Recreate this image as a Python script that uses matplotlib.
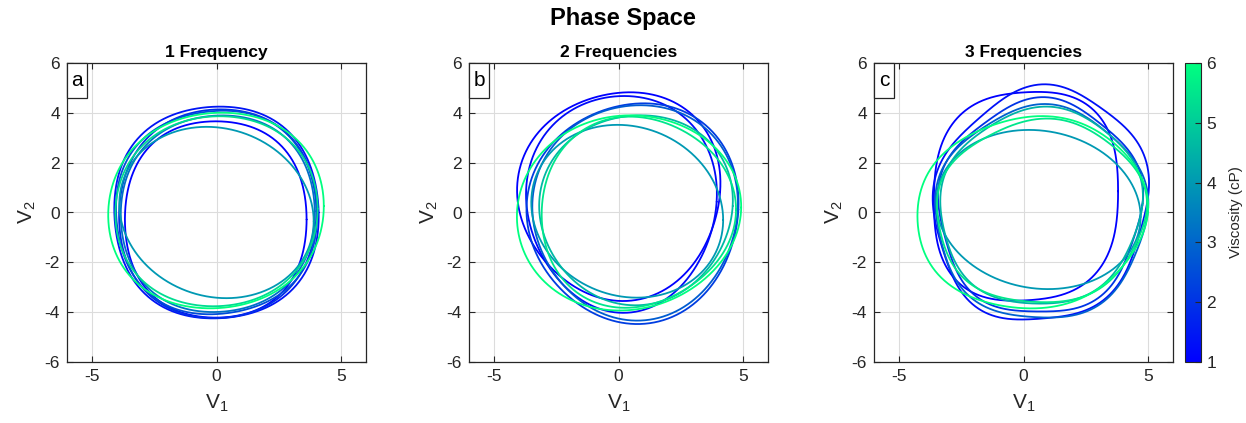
import numpy as np
import matplotlib
matplotlib.use("Agg")
import matplotlib.pyplot as plt
from matplotlib import cm, colors
from matplotlib.patches import Rectangle

plt.rcParams['font.family'] = ['Liberation Sans', 'DejaVu Sans']
plt.rcParams['mathtext.default'] = 'regular'
plt.rcParams['axes.unicode_minus'] = False

# ---------------- data (loop coefficients) ----------------
panel_titles = ["1 Frequency", "2 Frequencies", "3 Frequencies"]
panel_letters = ["a", "b", "c"]
axis_ticks_x = [-5, 0, 5]
axis_ticks_y = [-6, -4, -2, 0, 2, 4, 6]
cbar_ticks = [1, 2, 3, 4, 5, 6]

# viscosity (cP) of each loop
visc_a = [1.0, 1.4, 1.9, 2.5, 3.2, 4.0, 5.3, 6.0]
visc_b = [1.0, 1.2, 2.2, 2.8, 4.0, 4.6, 5.5, 6.0]
visc_c = [1.0, 1.3, 2.0, 2.9, 4.0, 4.5, 5.5, 6.0]

# centre of each loop
xc_a = [-0.03, 0.0, 0.05, 0.0, 0.05, 0.0, 0.0, -0.02]
yc_a = [-0.28, 0.0, -0.05, 0.0, -0.05, 0.0, 0.05, 0.08]
xc_b = [0.08, 0.14, 0.64, 0.70, 0.35, 0.72, 0.70, 0.38]
yc_b = [0.73, 0.43, 0.02, 0.06, 0.05, 0.16, 0.02, 0.0]
xc_c = [0.10, 0.70, 0.67, 0.70, 0.60, 0.70, 0.70, 0.33]
yc_c = [0.65, 0.30, 0.20, -0.03, 0.12, 0.22, 0.02, -0.01]

# half-widths (V1) and half-heights (V2)
ax_a = [3.72, 4.18, 4.02, 4.10, 3.95, 3.90, 4.10, 4.37]
ay_a = [4.02, 4.33, 4.25, 4.15, 4.00, 3.42, 3.85, 3.96]
ax_b = [4.07, 3.82, 4.25, 4.12, 3.85, 3.88, 3.90, 4.50]
ay_b = [4.18, 4.35, 4.42, 4.32, 3.45, 3.81, 3.82, 3.91]
ax_c = [3.85, 4.30, 4.08, 4.25, 4.10, 4.05, 4.20, 4.63]
ay_c = [4.35, 4.70, 4.30, 4.28, 3.18, 3.95, 3.68, 3.85]

# coupling term: V2 += tilt*cos(t)
tilt_a = [0.0, 0.0, 0.10, 0.05, 0.10, -0.35, 0.10, 0.18]
tilt_b = [0.10, 0.0, 0.10, 0.05, -0.35, 0.10, 0.10, 0.20]
tilt_c = [0.20, 0.30, 0.10, 0.05, -0.30, 0.15, 0.10, 0.20]

# one radial harmonic per loop: amplitude, order, phase
hamp_a = [-0.02, -0.02, -0.015, -0.02, -0.015, 0.0, -0.01, -0.01]
hord_a = [4, 4, 4, 4, 4, 4, 4, 4]
hph_a = [0.0, 0.3, 0.0, 0.5, 0.2, 0.0, 0.0, 0.0]
hamp_b = [0.03, 0.025, 0.025, 0.02, 0.0, 0.02, 0.03, 0.01]
hord_b = [3, 3, 3, 3, 3, 3, 3, 3]
hph_b = [2.2, 1.8, 2.4, 2.0, 0.0, 1.8, 0.0, 0.3]
hamp_c = [-0.04, 0.03, 0.03, 0.025, 0.0, 0.02, 0.02, 0.01]
hord_c = [4, 5, 5, 5, 5, 5, 5, 5]
hph_c = [0.0, 1.6, 1.4, 1.2, 0.0, 1.2, 1.0, 0.3]

panels = [
    (visc_a, xc_a, yc_a, ax_a, ay_a, tilt_a, hamp_a, hord_a, hph_a),
    (visc_b, xc_b, yc_b, ax_b, ay_b, tilt_b, hamp_b, hord_b, hph_b),
    (visc_c, xc_c, yc_c, ax_c, ay_c, tilt_c, hamp_c, hord_c, hph_c),
]

# ---------------- figure ----------------
W, H = 1246, 423
fig = plt.figure(figsize=(W / 100, H / 100), dpi=100)
cmap = plt.get_cmap('winter')
norm = colors.Normalize(vmin=1, vmax=6)
dark = '#262626'

lefts = [67, 469, 874]
t = np.linspace(0, 2 * np.pi, 721)
for i, (left, pdata) in enumerate(zip(lefts, panels)):
    ax = fig.add_axes([left / W, 1 - 362 / H, 299 / W, 299 / H])
    visc, xc, yc, axr, ayr, tilt, hamp, hord, hph = pdata
    for k in range(len(visc)):
        r = 1 + hamp[k] * np.cos(hord[k] * t - hph[k])
        v1 = xc[k] + axr[k] * r * np.cos(t)
        v2 = yc[k] + ayr[k] * r * np.sin(t) + tilt[k] * np.cos(t)
        ax.plot(v1, v2, color=cmap(norm(visc[k])), lw=1.3,
                solid_joinstyle='round', solid_capstyle='round')
    ax.set_xlim(-6, 6)
    ax.set_ylim(-6, 6)
    ax.set_xticks(axis_ticks_x)
    ax.set_yticks(axis_ticks_y)
    ax.grid(True, color='#dcdcdc', lw=0.8)
    ax.set_axisbelow(True)
    ax.tick_params(direction='in', length=4, top=True, right=True,
                   labelsize=12.5, colors=dark, width=0.8, pad=5)
    for s in ax.spines.values():
        s.set_color(dark)
        s.set_linewidth(0.9)
    ax.set_xlabel('V$_1$', fontsize=15, color=dark, labelpad=6)
    ax.set_ylabel('V$_2$', fontsize=15, color=dark, labelpad=5)
    ax.set_title(panel_titles[i], fontsize=12.5, fontweight='bold', pad=4)
    ax.add_patch(Rectangle((-6, 4.6), 0.82, 1.4, fc='white', ec=dark,
                           lw=0.9, zorder=5, clip_on=False))
    ax.text(-5.59, 5.3, panel_letters[i], fontsize=15, ha='center',
            va='center', zorder=6)

cax = fig.add_axes([1185 / W, 1 - 362 / H, 16 / W, 299 / H])
sm = cm.ScalarMappable(norm=norm, cmap=cmap)
cb = fig.colorbar(sm, cax=cax, ticks=cbar_ticks)
cb.outline.set_edgecolor(dark)
cb.outline.set_linewidth(0.8)
cax.tick_params(direction='in', length=4, labelsize=12.5, colors=dark,
                width=0.8, pad=4)
cb.set_label('Viscosity (cP)', fontsize=11, color=dark, labelpad=9)

fig.text(0.5, 1 - 18 / H, 'Phase Space', fontsize=17, fontweight='bold',
         ha='center', va='center')

fig.savefig('out.png', dpi=100)
